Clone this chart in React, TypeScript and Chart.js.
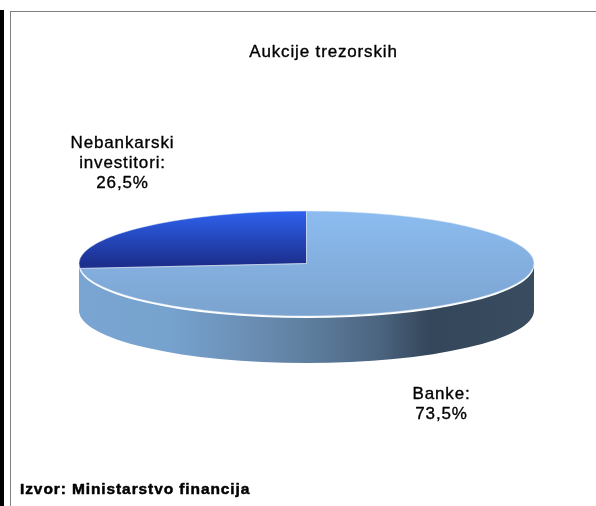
import React, { useEffect, useRef } from "react";
import { Chart, registerables } from "chart.js";

Chart.register(...registerables);

const titleText = "Aukcije trezorskih";
const sourceText = "Izvor: Ministarstvo financija";
const categories = ["Banke", "Nebankarski investitori"];
const shares = [73.5, 26.5];
const sliceLabels = [["Banke:", "73,5%"], ["Nebankarski", "investitori:", "26,5%"]];

const FLATTEN = 52.5 / 227.5;
const DEPTH = 47;
const FONT = "Liberation Sans, Arial, sans-serif";

const heavyText = (ctx: any, text: string, x: number, y: number, weight: number) => {
  ctx.lineWidth = weight;
  ctx.strokeStyle = "#000000";
  ctx.lineJoin = "round";
  ctx.strokeText(text, x, y);
  ctx.fillText(text, x, y);
};

const pie3d = {
  id: "pie3d",
  beforeDraw(chart: any) {
    const { ctx } = chart;
    ctx.save();
    ctx.fillStyle = "#ffffff";
    ctx.fillRect(0, 0, chart.width, chart.height);
    ctx.fillStyle = "#000000";
    ctx.fillRect(0, 10, 4, chart.height - 10);
    ctx.fillStyle = "#808080";
    ctx.fillRect(10, 11, chart.width - 10, 1);
    ctx.fillRect(10, 11, 1, chart.height - 11);
    ctx.restore();
  },
  beforeDatasetsDraw(chart: any) {
    const { ctx } = chart;
    const arcs = chart.getDatasetMeta(0).data;
    const { x, y, outerRadius: r } = arcs[0];
    const ry = r * FLATTEN;
    const g = ctx.createLinearGradient(x - r, 0, x + r, 0);
    g.addColorStop(0, "#7AA5D2");
    g.addColorStop(0.2, "#76A2CE");
    g.addColorStop(0.36, "#6C90B6");
    g.addColorStop(0.5, "#5F7F9F");
    g.addColorStop(0.66, "#4B6480");
    g.addColorStop(0.77, "#34465A");
    g.addColorStop(1, "#3A4C5F");
    ctx.save();
    ctx.fillStyle = g;
    ctx.beginPath();
    ctx.ellipse(x, y + 2, r, ry, 0, 0, Math.PI);
    ctx.lineTo(x - r, y + 2 + DEPTH);
    ctx.ellipse(x, y + DEPTH, r, ry, 0, Math.PI, 0, true);
    ctx.closePath();
    ctx.fill();
    ctx.restore();
    ctx.save();
    ctx.translate(0, y);
    ctx.scale(1, FLATTEN);
    ctx.translate(0, -y);
  },
  afterDatasetsDraw(chart: any) {
    const { ctx } = chart;
    ctx.restore();
    const arcs = chart.getDatasetMeta(0).data;
    ctx.save();
    ctx.strokeStyle = "rgba(222,234,247,0.6)";
    ctx.lineWidth = 0.8;
    arcs.forEach((a: any) => {
      ctx.beginPath();
      ctx.moveTo(a.x, a.y);
      ctx.ellipse(a.x, a.y, a.outerRadius, a.outerRadius * FLATTEN, 0, a.startAngle, a.endAngle);
      ctx.closePath();
      ctx.stroke();
    });
    ctx.restore();
  },
  afterDraw(chart: any) {
    const { ctx } = chart;
    ctx.save();
    ctx.fillStyle = "#000000";
    ctx.textAlign = "center";
    ctx.textBaseline = "middle";
    ctx.letterSpacing = "0.85px";
    ctx.font = `17px ${FONT}`;
    heavyText(ctx, titleText, 323.5, 52, 0.35);
    const anchors = [
      { x: 441.5, y: 394.5 },
      { x: 122.5, y: 143.5 },
    ];
    sliceLabels.forEach((lines, i) => {
      lines.forEach((line, j) => heavyText(ctx, line, anchors[i].x, anchors[i].y + j * 20, 0.35));
    });
    ctx.textAlign = "left";
    ctx.letterSpacing = "0.9px";
    ctx.font = `bold 15.5px ${FONT}`;
    heavyText(ctx, sourceText, 20, 490, 0.5);
    ctx.restore();
  },
};

export default function App() {
  const ref = useRef<HTMLCanvasElement>(null);
  useEffect(() => {
    document.body.style.margin = "0";
    const chart = new Chart(ref.current!, {
      type: "pie",
      plugins: [pie3d],
      data: {
        labels: categories,
        datasets: [
          {
            data: shares,
            borderWidth: 0,
            clip: false,
            backgroundColor: (c: any) => {
              const area = c.chart.chartArea;
              if (!area) return "#85B2E3";
              const cy = (area.top + area.bottom) / 2;
              const r = 227.5;
              const g = c.chart.ctx.createLinearGradient(0, cy - r, 0, cy + r);
              if (c.dataIndex === 0) {
                g.addColorStop(0, "#8CBCF0");
                g.addColorStop(1, "#7BA3CF");
              } else {
                g.addColorStop(0, "#2F62EE");
                g.addColorStop(0.5, "#1C2F8E");
                g.addColorStop(1, "#1C2F8E");
              }
              return g;
            },
          } as any,
        ],
      },
      options: {
        responsive: false,
        animation: false,
        radius: 227.5,
        layout: { padding: { left: 17, top: 21, right: 0, bottom: 0 } },
        plugins: { legend: { display: false }, tooltip: { enabled: false }, title: { display: false } },
      } as any,
    });
    return () => chart.destroy();
  }, []);
  return <canvas ref={ref} width={596} height={506} style={{ display: "block" }} />;
}
